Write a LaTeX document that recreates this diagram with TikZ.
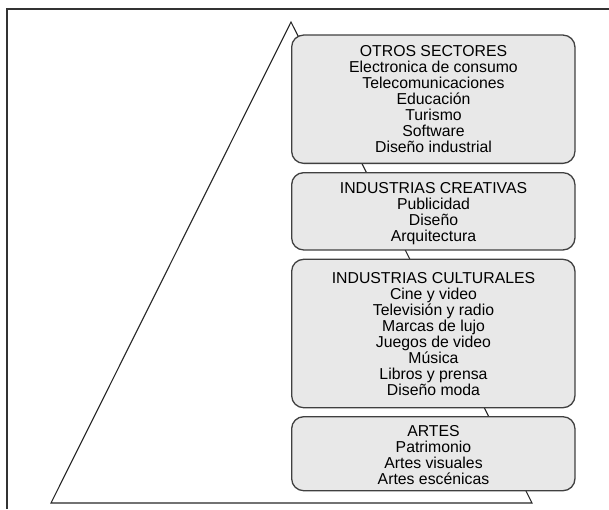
\documentclass[tikz,border=0pt]{standalone}
\usepackage{fontspec}
\setmainfont{Liberation Sans}
\begin{document}
\begin{tikzpicture}[x=1pt,y=-1pt,
  framel/.style={draw=black!80,line width=1.6pt},
  tri/.style={draw=black!85,line width=1.1pt},
  sector/.style={draw=black!75,line width=1.3pt,fill=black!9,rounded corners=12pt,
    minimum width=283.3pt,inner sep=0pt,align=center,
    font=\fontsize{15.8}{16}\selectfont},
  lbl/.style={align=center,inner sep=0pt,font=\fontsize{15.8}{16}\selectfont}]
\useasboundingbox (0,0) rectangle (609,509);
\coordinate (fa) at (7,509);
\coordinate (fb) at (7,9);
\coordinate (fc) at (609,9);
\draw[framel] (fa) -- (fb) -- (fc);
\coordinate (apex) at (291,22);
\coordinate (bl) at (51,503);
\coordinate (br) at (532,503);
\draw[tri] (apex) -- (bl) -- (br) -- cycle;
\node[sector,minimum height=128.3pt] (otros) at (433.3,99.2) {};
\node[sector,minimum height=77.3pt] (creat) at (433.3,211.3) {};
\node[sector,minimum height=148.4pt] (cult) at (433.3,333.5) {};
\node[sector,minimum height=74pt] (artes) at (433.3,453.7) {};
\node[lbl] (t1) at (433.5,99.3) {OTROS SECTORES\\Electronica de consumo\\Telecomunicaciones\\Educación\\Turismo\\Software\\Diseño industrial};
\node[lbl] (t2) at (433.5,213.5) {INDUSTRIAS CREATIVAS\\Publicidad\\Diseño\\Arquitectura};
\node[lbl] (t3) at (433.5,333.7) {INDUSTRIAS CULTURALES\\Cine y video\\Televisión y radio\\Marcas de lujo\\Juegos de video\\Música\\Libros y prensa\\Diseño moda};
\node[lbl] (t4) at (433.5,455.3) {ARTES\\Patrimonio\\Artes visuales\\Artes escénicas};
\end{tikzpicture}
\end{document}
